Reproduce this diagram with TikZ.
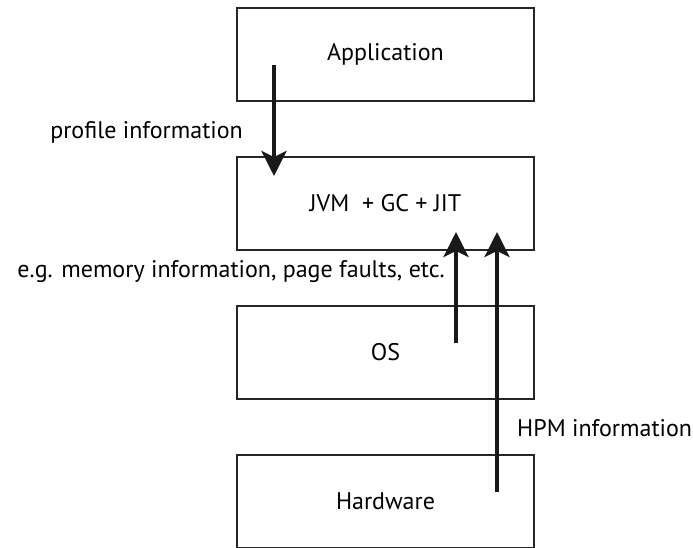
\documentclass[tikz,border=0pt]{standalone}
\usepackage{fontspec}
\setmainfont{PT Sans}
\usetikzlibrary{arrows.meta}
\begin{document}
\begin{tikzpicture}[x=1pt,y=-1pt,
  layer/.style={draw=black!85, line width=1.6pt, minimum width=297pt, minimum height=93pt, inner sep=0pt, font=\fontsize{24}{26}\selectfont},
  flow/.style={line width=4pt, black!90, -{Stealth[width=25pt,length=25pt,inset=6pt]}},
  lbl/.style={font=\fontsize{24}{26}\selectfont, inner sep=0pt}]
\useasboundingbox (0,0) rectangle (693,548);
\node[layer] (app) at (385.5,54.5) {Application};
\node[layer] (jvm) at (385.5,203.5) {JVM\ \ + GC + JIT};
\node[layer] (os) at (385.5,352.5) {OS};
\node[layer] (hw) at (385.5,501.5) {Hardware};
\coordinate (a1s) at (274,65);
\coordinate (a1e) at (274,176);
\coordinate (a2s) at (456,343);
\coordinate (a2e) at (456,232);
\coordinate (a3s) at (497,492);
\coordinate (a3e) at (497,232);
\draw[flow] (a1s) -- (a1e);
\draw[flow] (a2s) -- (a2e);
\draw[flow] (a3s) -- (a3e);
\node[lbl, anchor=east] (l1) at (243,132) {profile information};
\node[lbl, anchor=east] (l2) at (445,272) {e.g. memory information, page faults, etc.};
\node[lbl, anchor=west] (l3) at (517,428) {HPM information};
\end{tikzpicture}
\end{document}
